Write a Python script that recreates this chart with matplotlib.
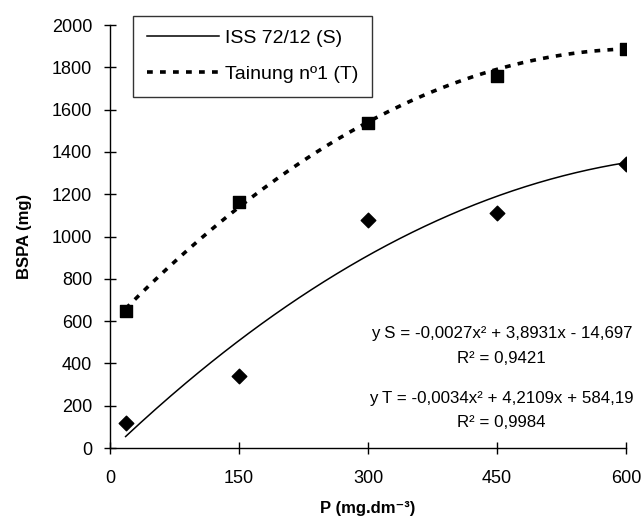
import numpy as np
import matplotlib
matplotlib.use('Agg')
import matplotlib.pyplot as plt

plt.rcParams['font.family'] = ['Liberation Sans', 'DejaVu Sans']

# P doses and measured BSPA
p_dose = [18, 150, 300, 450, 600]
bspa_s = [120, 340, 1078, 1111, 1343]
bspa_t = [648, 1163, 1537, 1759, 1887]

# quadratic trend coefficients (a, b, c) and R2
coef_s = (-0.0027, 3.8931, -14.697)
coef_t = (-0.0034, 4.2109, 584.19)
r2_s = '0,9421'
r2_t = '0,9984'

xticks = [0, 150, 300, 450, 600]
yticks = list(range(0, 2001, 200))

fig = plt.figure(figsize=(6.44, 5.21), dpi=100)
ax = fig.add_axes([0.171, 0.140, 0.801, 0.812])

xs = np.linspace(p_dose[0], p_dose[-1], 200)
fit_s = coef_s[0] * xs**2 + coef_s[1] * xs + coef_s[2]
fit_t = coef_t[0] * xs**2 + coef_t[1] * xs + coef_t[2]

ax.plot(xs, fit_s, color='black', lw=1.1, label='ISS 72/12 (S)')
ax.plot(xs, fit_t, color='black', lw=2.6, linestyle=(0, (1.6, 2.0)),
        dash_capstyle='butt', label='Tainung nº1 (T)')
ax.scatter(p_dose, bspa_s, marker='D', s=55, color='black', zorder=3)
ax.scatter(p_dose, bspa_t, marker='s', s=85, color='black', zorder=3)

ax.set_xlim(0, 600)
ax.set_ylim(0, 2000)
ax.set_xticks(xticks)
ax.set_yticks(yticks)
for sp in ['top', 'right']:
    ax.spines[sp].set_visible(False)
ax.spines['left'].set_linewidth(1)
ax.spines['bottom'].set_linewidth(1)
ax.tick_params(direction='inout', length=8, width=1, labelsize=13)
ax.tick_params(axis='y', pad=9)
ax.tick_params(axis='x', pad=12)

ax.set_xlabel('P (mg.dm⁻³)', fontsize=12, fontweight='bold', labelpad=10)
ax.set_ylabel('BSPA (mg)', fontsize=12, fontweight='bold', labelpad=14)

eq_kw = dict(ha='center', va='center', fontsize=12.2)
ax.text(455, 540, 'y S = -0,0027x² + 3,8931x - 14,697', **eq_kw)
ax.text(455, 422, 'R² = ' + r2_s, **eq_kw)
ax.text(455, 235, 'y T = -0,0034x² + 4,2109x + 584,19', **eq_kw)
ax.text(455, 120, 'R² = ' + r2_t, **eq_kw)

leg = ax.legend(loc='upper left', bbox_to_anchor=(0.045, 1.022), fontsize=14,
                frameon=True, fancybox=False, edgecolor='black',
                handlelength=3.7, handletextpad=0.3, borderpad=0.7,
                labelspacing=0.95, borderaxespad=0)
leg.get_frame().set_linewidth(1)

fig.savefig('out.png', dpi=100)
